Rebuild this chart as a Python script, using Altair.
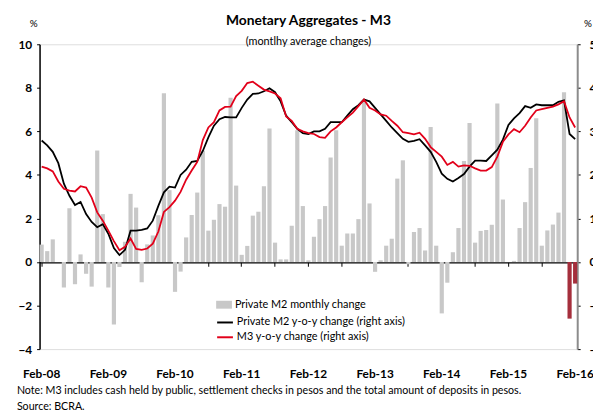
import altair as alt
import pandas as pd

FONT = "Lato"

# Months Feb-08 ... Feb-16
months = list(pd.date_range("2008-02-01", periods=97, freq="MS").strftime("%b-%y"))
tick_months = [m for m in months if m.startswith("Feb") or m.startswith("Aug")]

# Private M2 monthly change (%), left axis
m2_monthly = [
    0.80, 0.50, 1.04, 0.00, -1.17, 2.47, -1.02, 0.35, -0.54, -1.13,
    5.12, 2.20, -1.17, -2.87, -0.23, 0.93, 3.13, 2.50, -0.93, 0.81,
    1.22, 2.15, 7.75, 3.30, -1.37, -0.44, 1.13, 2.16, 3.19, 5.12,
    1.44, 1.94, 2.66, 2.54, 7.54, 3.51, 0.33, 0.74, 2.13, 2.31,
    3.48, 6.13, 0.89, 0.12, 0.12, 1.67, 6.05, 2.57, 0.08, 1.16,
    1.97, 2.57, 4.80, 6.05, 0.75, 1.31, 1.31, 1.97, 7.40, 2.69,
    -0.45, 0.08, 0.75, 1.07, 3.83, 4.67, -0.10, 1.38, 1.56, 0.53,
    6.20, 0.75, -2.36, -0.95, 0.45, 1.56, 4.64, 6.38, 0.89, 1.43,
    1.47, 1.71, 7.28, 2.87, 0.00, 0.05, 1.56, 2.75, 4.32, 6.60,
    0.75, 1.45, 1.72, 2.27, 7.80, -2.60, -0.99,
]

# Private M2 y-o-y change (%), right axis
m2_yoy = [
    27.9, 26.8, 25.3, 22.7, 18.0, 15.2, 13.1, 13.8, 11.0, 9.2,
    8.0, 8.7, 6.5, 3.2, 1.6, 2.8, 7.2, 7.2, 7.4, 7.7,
    9.5, 12.9, 16.0, 17.3, 17.1, 20.0, 21.2, 23.0, 23.2, 25.5,
    28.6, 31.3, 32.8, 33.3, 33.2, 33.2, 35.4, 37.3, 38.6, 38.7,
    39.2, 39.9, 39.0, 36.9, 33.6, 32.1, 30.6, 29.6, 29.4, 30.0,
    30.0, 30.6, 32.1, 32.1, 32.1, 33.6, 35.1, 36.0, 37.3, 36.9,
    35.4, 33.9, 32.4, 30.9, 29.6, 28.3, 27.6, 27.8, 28.2, 26.8,
    25.3, 23.0, 20.3, 19.1, 18.5, 19.3, 20.2, 21.9, 23.3, 23.3,
    23.2, 24.5, 25.8, 28.1, 31.5, 33.0, 34.2, 35.8, 35.4, 36.2,
    36.0, 36.0, 36.0, 36.8, 37.1, 29.4, 28.2,
]

# M3 y-o-y change (%), right axis
m3_yoy = [
    21.9, 21.5, 20.8, 18.5, 16.8, 16.4, 16.2, 17.4, 17.1, 14.8,
    11.4, 9.5, 7.2, 4.8, 2.7, 3.5, 5.4, 3.0, 2.8, 3.1,
    4.2, 7.0, 11.5, 12.6, 14.1, 16.1, 18.9, 21.0, 23.0, 28.0,
    30.9, 32.1, 34.8, 35.6, 35.7, 38.1, 39.3, 41.1, 41.4, 40.5,
    39.6, 39.2, 38.7, 37.6, 33.4, 32.4, 30.6, 30.0, 29.6, 29.4,
    28.7, 28.5, 30.0, 30.9, 32.1, 33.2, 34.3, 35.8, 37.3, 35.4,
    34.8, 33.9, 33.6, 32.4, 31.3, 29.8, 29.6, 29.3, 29.7, 28.3,
    26.4, 25.3, 24.2, 22.3, 23.0, 21.9, 22.2, 22.1, 21.5, 21.0,
    21.0, 21.8, 24.2, 27.6, 29.3, 30.5, 29.8, 31.3, 33.2, 34.8,
    35.1, 35.4, 35.7, 36.2, 36.9, 33.2, 30.9,
]

bar_name = "Private M2 monthly change"
bar_latest = "Private M2 monthly change (latest)"
black_name = "Private M2 y-o-y change (right axis)"
red_name = "M3 y-o-y change (right axis)"

left_ticks = [-4, -2, 0, 2, 4, 6, 8, 10]
right_ticks = [-20, -10, 0, 10, 20, 30, 40, 50]

title_text = "Monetary Aggregates - M3"
subtitle_text = "(montlhy average changes)"
note_text = "Note: M3 includes cash held by public, settlement checks in pesos and the total amount of deposits in pesos."
source_text = "Source: BCRA."

n = len(months)
bar_df = pd.DataFrame({
    "month": months,
    "value": m2_monthly,
    "kind": [bar_name] * (n - 2) + [bar_latest] * 2,
})
line_df = pd.DataFrame({
    "month": months * 2,
    "value": m2_yoy + m3_yoy,
    "series": [black_name] * n + [red_name] * n,
})

x_enc = alt.X(
    "month:N",
    sort=months,
    scale=alt.Scale(paddingInner=0.25, paddingOuter=0),
    axis=alt.Axis(
        orient="bottom", values=tick_months, offset=-88,
        labelExpr="slice(datum.value, 0, 3) == 'Feb' ? datum.value : ''",
        labelAngle=0, labelFont=FONT, labelFontSize=12, labelFontWeight="bold",
        labelColor="black", labelPadding=104, labelOverlap=False,
        tickSize=4, tickColor="black", domainColor="black", domainWidth=1.2,
        title=None, grid=False,
    ),
)

bars = alt.Chart(bar_df).mark_bar().encode(
    x=x_enc,
    y=alt.Y(
        "value:Q",
        scale=alt.Scale(domain=[-4, 10], nice=False, zero=False),
        axis=alt.Axis(
            orient="left", values=left_ticks, title=None, grid=False,
            labelFont=FONT, labelFontSize=12, labelFontWeight="bold",
            labelColor="black", labelPadding=5, tickSize=3,
            tickColor="black", domainColor="black", domainWidth=1.5,
        ),
    ),
    color=alt.Color(
        "kind:N",
        scale=alt.Scale(domain=[bar_name, bar_latest], range=["#c8c8c8", "#a52f3c"]),
        legend=alt.Legend(
            values=[bar_name], orient="none", legendX=179, legendY=256,
            title=None, padding=0, symbolType="M-1,-0.5H1V0.5H-1Z",
            symbolSize=256, symbolStrokeWidth=0, labelFont=FONT,
            labelFontSize=11, labelColor="black", labelOffset=3,
            labelLimit=400,
        ),
    ),
)

lines = alt.Chart(line_df).mark_line(strokeWidth=1.8).encode(
    x=x_enc,
    y=alt.Y(
        "value:Q",
        scale=alt.Scale(domain=[-20, 50], nice=False, zero=False),
        axis=alt.Axis(
            orient="right", values=right_ticks, title=None, grid=False,
            labelFont=FONT, labelFontSize=12, labelFontWeight="bold",
            labelColor="black", labelPadding=9, tickSize=3,
            tickColor="black", domainColor="#8c8c8c", domainWidth=2,
        ),
    ),
    stroke=alt.Stroke(
        "series:N",
        scale=alt.Scale(domain=[black_name, red_name], range=["#000000", "#e2001a"]),
        legend=alt.Legend(
            orient="none", legendX=179, legendY=273, title=None, padding=0,
            symbolType="stroke", symbolSize=256, symbolStrokeWidth=2,
            labelFont=FONT, labelFontSize=11, labelColor="black",
            labelOffset=3, rowPadding=1, labelLimit=400,
        ),
    ),
)


def text_layer(txt, x, y, size, weight="normal", align="left"):
    return alt.Chart(pd.DataFrame({"t": [txt]})).mark_text(
        align=align, baseline="middle", font=FONT, fontSize=size,
        fontWeight=weight, color="black",
    ).encode(text="t:N", x=alt.value(x), y=alt.value(y))


texts = [
    text_layer(title_text, 272.5, -23.5, 14, "bold", "center"),
    text_layer(subtitle_text, 272.5, -2, 11, "normal", "center"),
    text_layer("%", -6, -21, 10, "normal", "center"),
    text_layer("%", 556, -21, 10, "normal", "center"),
    text_layer(note_text, -23, 351, 10.8),
    text_layer(source_text, -23, 368, 10.8),
]

chart = alt.layer(bars, lines, *texts).resolve_scale(
    y="independent", color="independent", stroke="independent"
).properties(
    width=545, height=309,
    autosize=alt.AutoSizeParams(type="none"),
    padding={"left": 32, "top": 34, "right": 16, "bottom": 63},
).configure_view(stroke=None).configure(background="white")

chart.save("out.html", embed_options={"renderer": "svg", "actions": False})
